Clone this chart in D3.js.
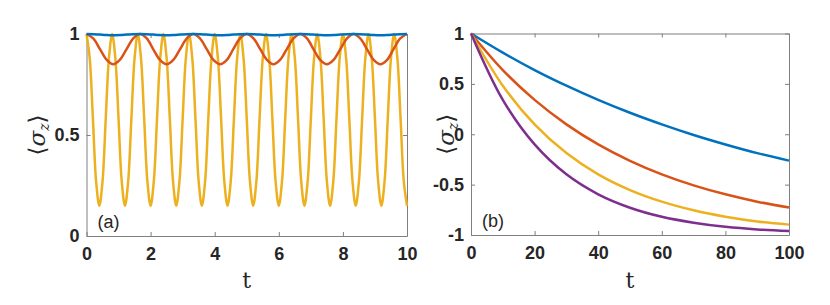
<!DOCTYPE html>
<html>
<head>
<meta charset="utf-8">
<script src="https://cdn.jsdelivr.net/npm/d3@7"></script>
<style>
  body { margin: 0; background: #fff; }
  svg text { fill: #262626; }
  .tick text { font-family: "Liberation Sans Narrow", "Arial Narrow", "Liberation Sans", sans-serif; font-weight: bold; font-size: 18px; }
  .tick line, .domain { stroke: #7f7f7f; }
</style>
</head>
<body>
<svg id="chart" width="830" height="305"></svg>
<script>
// panel (a): t from 0 to 10
const tFast = [0, 0.1, 0.2, 0.3, 0.4, 0.5, 0.6, 0.7, 0.8, 0.9, 1, 1.1, 1.2, 1.3, 1.4, 1.5, 1.6, 1.7, 1.8, 1.9,
  2, 2.1, 2.2, 2.3, 2.4, 2.5, 2.6, 2.7, 2.8, 2.9, 3, 3.1, 3.2, 3.3, 3.4, 3.5, 3.6, 3.7, 3.8, 3.9,
  4, 4.1, 4.2, 4.3, 4.4, 4.5, 4.6, 4.7, 4.8, 4.9, 5, 5.1, 5.2, 5.3, 5.4, 5.5, 5.6, 5.7, 5.8, 5.9,
  6, 6.1, 6.2, 6.3, 6.4, 6.5, 6.6, 6.7, 6.8, 6.9, 7, 7.1, 7.2, 7.3, 7.4, 7.5, 7.6, 7.7, 7.8, 7.9,
  8, 8.1, 8.2, 8.3, 8.4, 8.5, 8.6, 8.7, 8.8, 8.9, 9, 9.1, 9.2, 9.3, 9.4, 9.5, 9.6, 9.7, 9.8, 9.9, 10];
const yellowA = [1, .88, .58, .27, .15, .27, .58, .88, 1, .88, .58, .27, .15, .27, .58, .88,
  1, .88, .58, .27, .15, .27, .58, .88, 1, .88, .58, .27, .15, .27, .58, .88,
  1, .88, .58, .27, .15, .27, .58, .88, 1, .88, .58, .27, .15, .27, .58, .88,
  1, .88, .58, .27, .15, .27, .58, .88, 1, .88, .58, .27, .15, .27, .58, .88,
  1, .88, .58, .27, .15, .27, .58, .88, 1, .88, .58, .27, .15, .27, .58, .88,
  1, .88, .58, .27, .15, .27, .58, .88, 1, .88, .58, .27, .15, .27, .58, .88,
  1, .88, .58, .27, .15];

const tSlow = [0, 0.21, 0.42, 0.63, 0.83, 1.04, 1.25, 1.46, 1.67, 1.88, 2.08, 2.29, 2.5, 2.71, 2.92, 3.13,
  3.33, 3.54, 3.75, 3.96, 4.17, 4.38, 4.58, 4.79, 5, 5.21, 5.42, 5.63, 5.83, 6.04, 6.25, 6.46,
  6.67, 6.88, 7.08, 7.29, 7.5, 7.71, 7.92, 8.13, 8.33, 8.54, 8.75, 8.96, 9.17, 9.38, 9.58, 9.79, 10];
const redA = [1, .978, .925, .872, .85, .872, .925, .978, 1, .978, .925, .872, .85, .872, .925, .978,
  1, .978, .925, .872, .85, .872, .925, .978, 1, .978, .925, .872, .85, .872, .925, .978,
  1, .978, .925, .872, .85, .872, .925, .978, 1, .978, .925, .872, .85, .872, .925, .978, 1];
const blueA = [1, .999, .997, .995, .994, .995, .997, .999, 1, .999, .997, .995, .994, .995, .997, .999,
  1, .999, .997, .995, .994, .995, .997, .999, 1, .999, .997, .995, .994, .995, .997, .999,
  1, .999, .997, .995, .994, .995, .997, .999, 1, .999, .997, .995, .994, .995, .997, .999, 1];

// panel (b): t from 0 to 100
const tB = [0, 10, 20, 30, 40, 50, 60, 70, 80, 90, 100];
const blueB = [1, 0.81, 0.637, 0.482, 0.341, 0.213, 0.098, -0.007, -0.101, -0.187, -0.262];
const redB = [1, 0.637, 0.341, 0.098, -0.101, -0.264, -0.398, -0.507, -0.596, -0.669, -0.728];
const yellowB = [1, 0.482, 0.098, -0.187, -0.398, -0.554, -0.669, -0.755, -0.819, -0.866, -0.897];
const purpleB = [1, 0.341, -0.101, -0.398, -0.596, -0.729, -0.819, -0.878, -0.919, -0.945, -0.96];

const ticksXA = [0, 2, 4, 6, 8, 10];
const ticksYA = [0, 0.5, 1];
const ticksXB = [0, 20, 40, 60, 80, 100];
const ticksYB = [-1, -0.5, 0, 0.5, 1];

const colors = { blue: '#0072bd', red: '#d95319', yellow: '#edb120', purple: '#7e2f8e' };

const svg = d3.select('#chart');

function drawPanel(opt) {
    const x = d3.scaleLinear().domain(opt.xDomain).range([opt.left, opt.right]);
    const y = d3.scaleLinear().domain(opt.yDomain).range([opt.bottom, opt.top]);
    const g = svg.append('g');

    // box with inward ticks on all sides
    g.append('g')
        .attr('transform', `translate(0,${opt.bottom})`)
        .call(d3.axisBottom(x).tickValues(opt.xTicks).tickSizeInner(-4).tickSizeOuter(0).tickPadding(11)
            .tickFormat(d => d));
    g.append('g')
        .attr('transform', `translate(0,${opt.top})`)
        .call(d3.axisTop(x).tickValues(opt.xTicks).tickSizeInner(-4).tickSizeOuter(0).tickFormat(''));
    g.append('g')
        .attr('transform', `translate(${opt.left},0)`)
        .call(d3.axisLeft(y).tickValues(opt.yTicks).tickSizeInner(-4).tickSizeOuter(0).tickPadding(7)
            .tickFormat(d => d));
    g.append('g')
        .attr('transform', `translate(${opt.right},0)`)
        .call(d3.axisRight(y).tickValues(opt.yTicks).tickSizeInner(-4).tickSizeOuter(0).tickFormat(''));
    g.selectAll('.domain').attr('stroke', '#7f7f7f');

    const line = d3.line()
        .x(d => x(d[0]))
        .y(d => y(d[1]))
        .curve(d3.curveCatmullRom);

    opt.series.forEach(s => {
        g.append('path')
            .datum(s.t.map((t, i) => [t, s.v[i]]))
            .attr('d', line)
            .attr('fill', 'none')
            .attr('stroke', s.color)
            .attr('stroke-width', 2.5);
    });

    g.append('text')
        .attr('x', opt.left + 11)
        .attr('y', opt.bottom - 8)
        .style('font-family', '"Liberation Sans Narrow", "Arial Narrow", sans-serif')
        .style('font-size', '18px')
        .text(opt.tag);

    g.append('text')
        .attr('x', (opt.left + opt.right) / 2)
        .attr('y', 288)
        .attr('text-anchor', 'middle')
        .style('font-family', '"DejaVu Serif", serif')
        .style('font-size', '22px')
        .text('t');

    const yl = g.append('text')
        .attr('transform', `translate(${opt.yLabelX},${(opt.top + opt.bottom) / 2}) rotate(-90)`)
        .attr('text-anchor', 'middle')
        .style('font-family', '"DejaVu Serif", serif')
        .style('font-size', '23px');
    yl.append('tspan').text('\u27e8');
    yl.append('tspan').style('font-style', 'italic').text('\u03c3');
    yl.append('tspan').style('font-style', 'italic').style('font-size', '14px').attr('dy', 4).text('z');
    yl.append('tspan').attr('dy', -4).text('\u27e9');
}

drawPanel({
    left: 86.5, right: 407, top: 34, bottom: 236,
    xDomain: [0, 10], yDomain: [0, 1],
    xTicks: ticksXA, yTicks: ticksYA,
    tag: '(a)', yLabelX: 45,
    series: [
        { t: tFast, v: yellowA, color: colors.yellow },
        { t: tSlow, v: redA, color: colors.red },
        { t: tSlow, v: blueA, color: colors.blue }
    ]
});

drawPanel({
    left: 471, right: 789, top: 33.5, bottom: 235,
    xDomain: [0, 100], yDomain: [-1, 1],
    xTicks: ticksXB, yTicks: ticksYB,
    tag: '(b)', yLabelX: 454,
    series: [
        { t: tB, v: blueB, color: colors.blue },
        { t: tB, v: redB, color: colors.red },
        { t: tB, v: yellowB, color: colors.yellow },
        { t: tB, v: purpleB, color: colors.purple }
    ]
});
</script>
</body>
</html>
